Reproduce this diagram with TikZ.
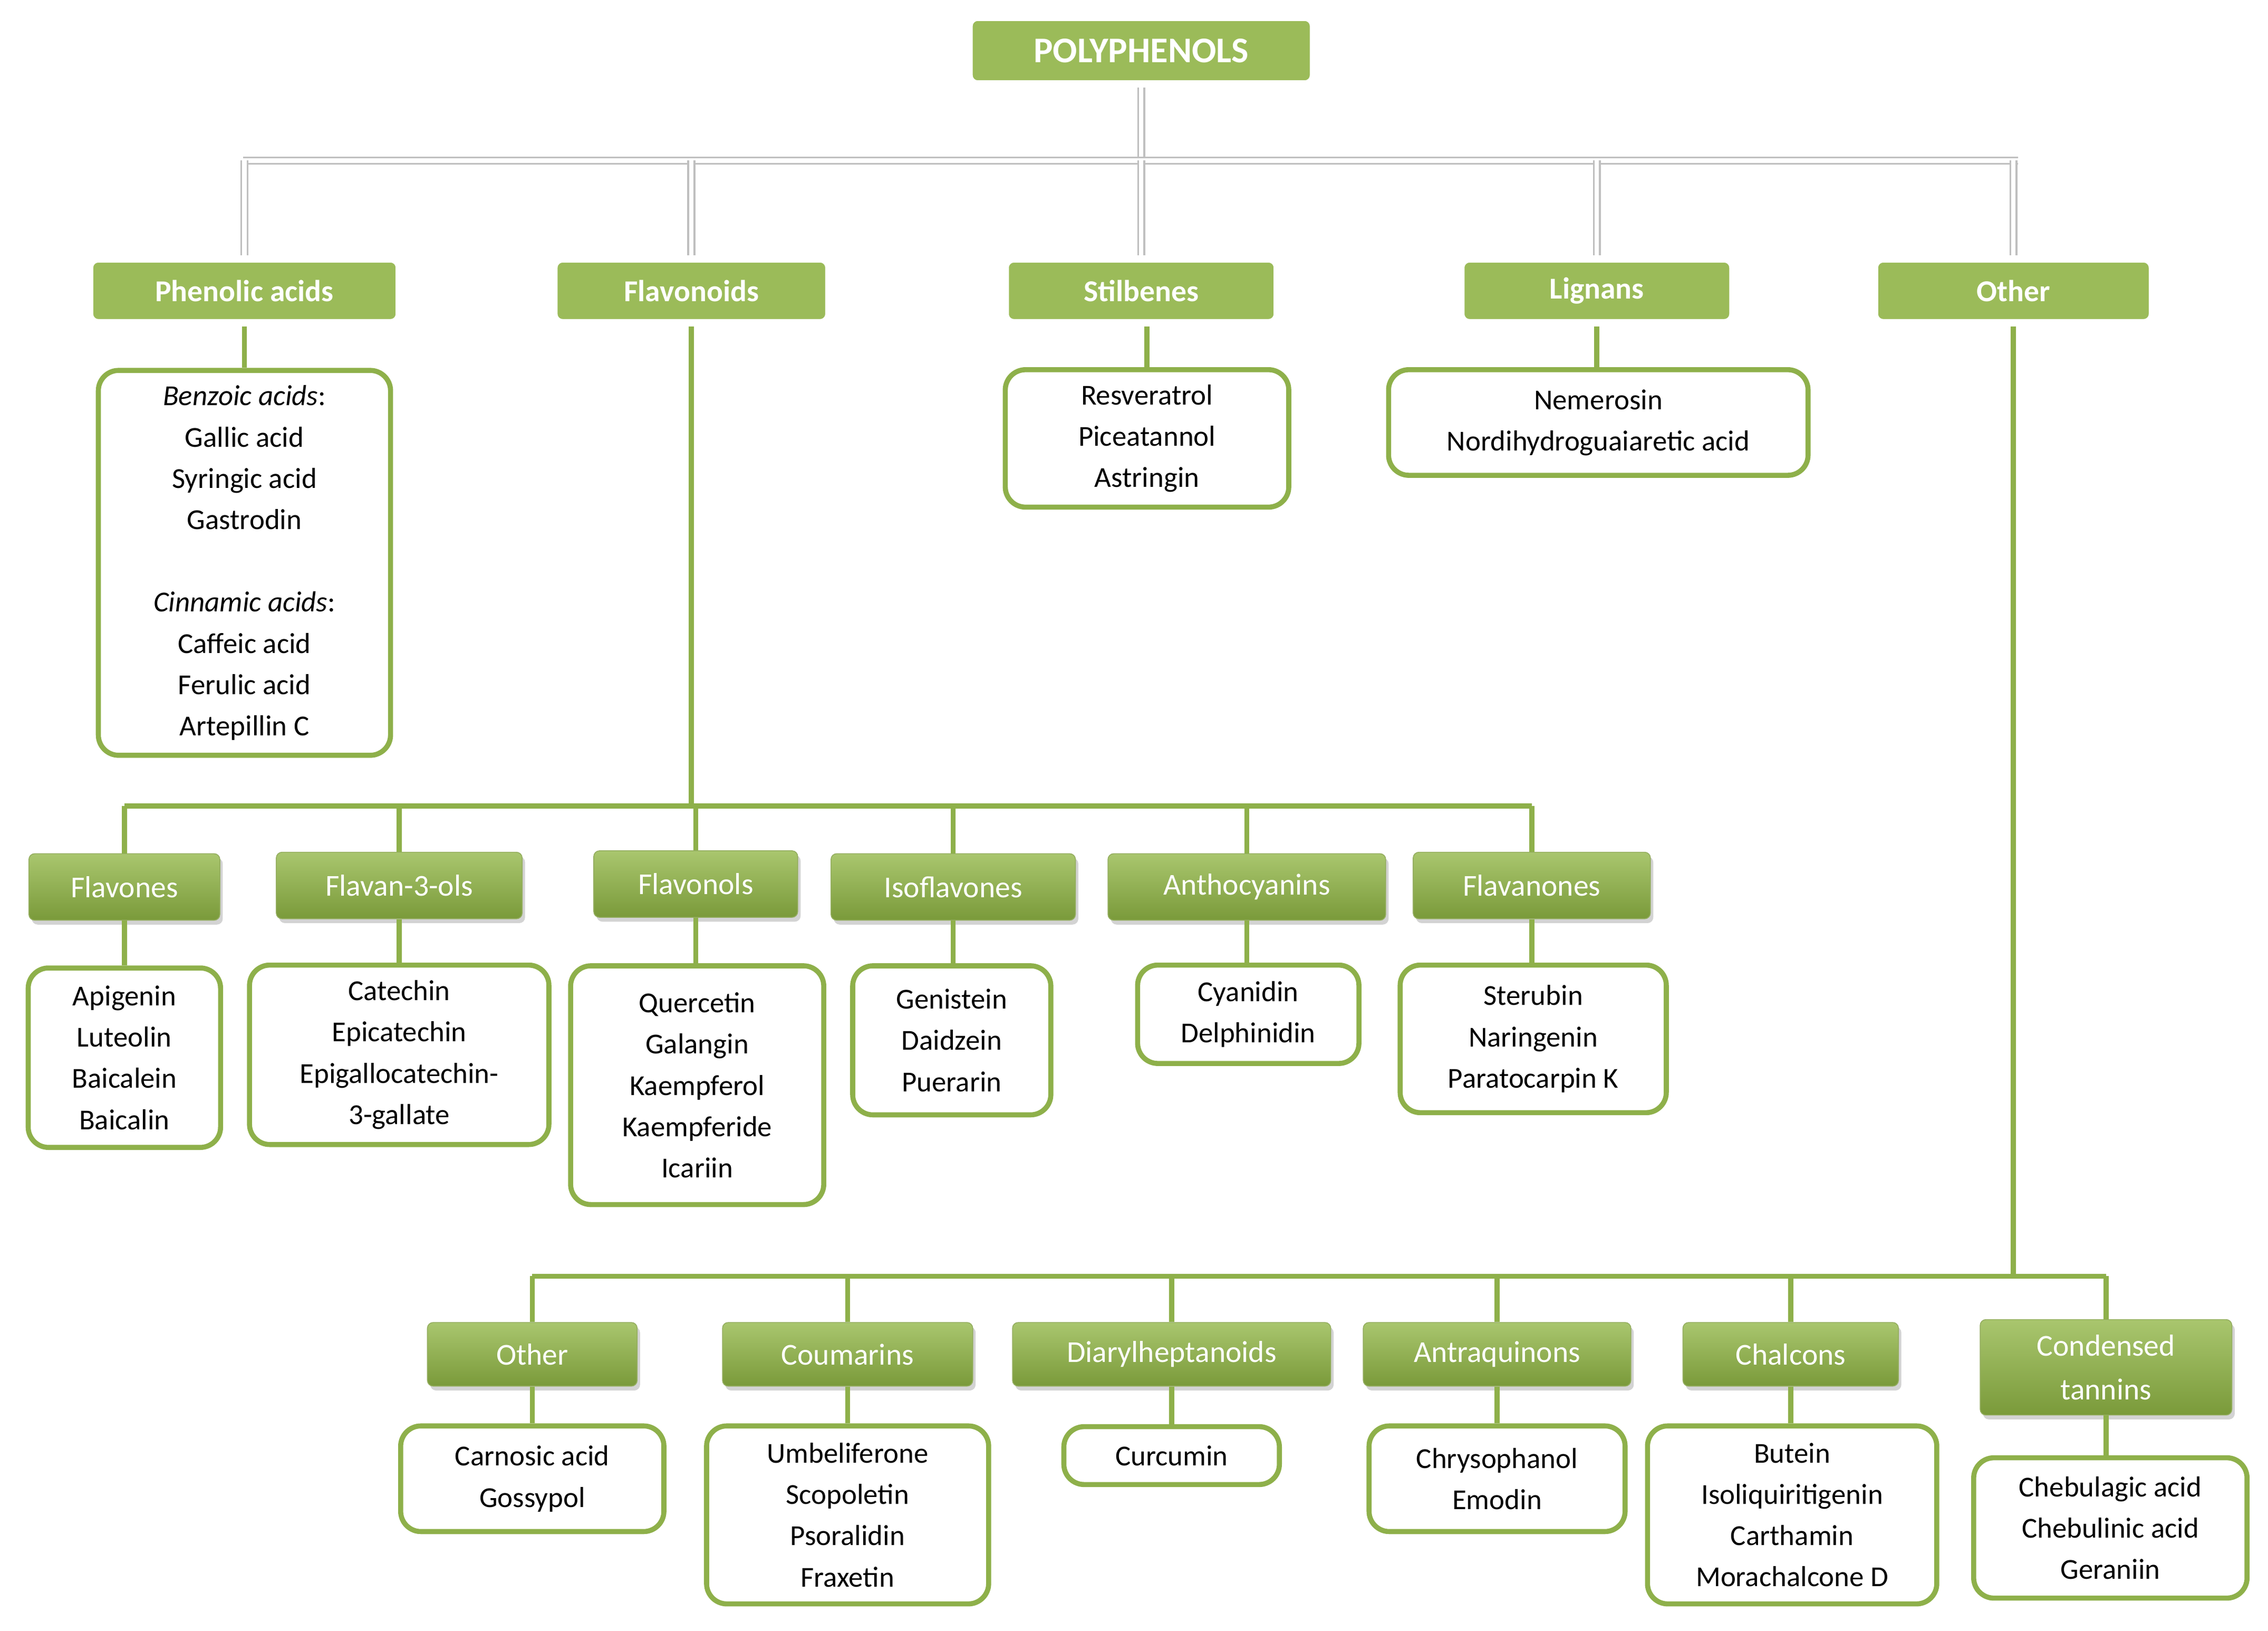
\documentclass[tikz,border=0pt]{standalone}
\usepackage{fontspec}
\setmainfont{Carlito}
\usetikzlibrary{shadows}
\definecolor{gA}{HTML}{9BBB59}
\definecolor{gB}{HTML}{A9C66E}
\definecolor{gC}{HTML}{7A9A3A}
\definecolor{gL}{HTML}{8EB04A}
\begin{document}
\begin{tikzpicture}[x=1pt,y=-1pt,
  top/.style={fill=gA,draw=white,line width=5pt,rounded corners=6pt,text=white,font=\fontsize{25}{28}\selectfont\bfseries,inner sep=0pt,drop shadow={shadow xshift=1pt,shadow yshift=-2pt,opacity=.35}},
  l1/.style={fill=gA,draw=white,line width=5pt,rounded corners=6pt,text=white,font=\fontsize{21}{25}\selectfont\bfseries,inner sep=0pt,minimum height=44pt,drop shadow={shadow xshift=1pt,shadow yshift=-2pt,opacity=.35}},
  l2/.style={top color=gB,bottom color=gC,draw=gC!80,line width=.6pt,rounded corners=4pt,text=white,font=\fontsize{21}{26}\selectfont,inner sep=0pt,minimum height=46pt,align=center,drop shadow={shadow xshift=2pt,shadow yshift=-3pt,opacity=.35}},
  box/.style={fill=white,draw=gL,line width=3.5pt,rounded corners=14pt,font=\fontsize{20}{28.5}\selectfont,inner sep=0pt,align=center},
  gl/.style={draw=gL,line width=3.5pt},
  grl/.style={draw=black!25,line width=1.3pt,double=white,double distance=3pt}]
\useasboundingbox (0,0) rectangle (1568,1127);
% top
\node[top,minimum width=238pt,minimum height=46pt] (poly) at (789,35) {POLYPHENOLS};
\coordinate (bus) at (789,111);
\coordinate (busL) at (168,111);
\coordinate (busR) at (1395,111);
\node[l1,minimum width=214pt] (pa) at (169,201) {Phenolic acids};
\node[l1,minimum width=190pt] (fl) at (478,201) {Flavonoids};
\node[l1,minimum width=188pt] (st) at (789,201) {Stilbenes};
\node[l1,minimum width=188pt] (li) at (1104,201) {Lignans};
\node[l1,minimum width=192pt] (ot) at (1392,201) {Other};
\draw[grl] (poly.south) -- (bus);
\draw[grl] (busL) -- (busR);
\foreach \n in {pa,fl,st,li,ot} \draw[grl] (\n.north |- bus) -- (\n.north);
% level 1 contents
\node[box,minimum width=202pt,minimum height=266pt] (pac) at (169,389) {\textit{Benzoic acids}:\\Gallic acid\\Syringic acid\\Gastrodin\\[28.5pt]\textit{Cinnamic acids}:\\Caffeic acid\\Ferulic acid\\Artepillin C};
\node[box,minimum width=196pt,minimum height=95pt] (stc) at (793,303) {Resveratrol\\Piceatannol\\Astringin};
\node[box,minimum width=290pt,minimum height=73pt] (lic) at (1105,292) {Nemerosin\\Nordihydroguaiaretic acid};
\draw[gl] (pa.south) -- (pa.south |- pac.north);
\draw[gl] (st.south -| stc.north) -- (stc.north);
\draw[gl] (li.south) -- (li.south |- lic.north);
% flavonoids
\coordinate (fbus) at (478,557);
\node[l2,minimum width=132pt] (f1) at (86,613) {Flavones};
\node[l2,minimum width=170pt] (f2) at (276,612) {Flavan-3-ols};
\node[l2,minimum width=141pt] (f3) at (481,611) {Flavonols};
\node[l2,minimum width=169pt] (f4) at (659,613) {Isoflavones};
\node[l2,minimum width=192pt] (f5) at (862,613) {Anthocyanins};
\node[l2,minimum width=164pt] (f6) at (1059,612) {Flavanones};
\draw[gl] (fl.south) -- (fbus);
\draw[gl] (f1.north |- fbus) -- (f6.north |- fbus);
\foreach \n in {f1,f2,f3,f4,f5,f6} \draw[gl] (\n.north |- fbus) -- (\n.north);
\node[box,minimum width=133pt,minimum height=124pt] (c1) at (86,731) {Apigenin\\Luteolin\\Baicalein\\Baicalin};
\node[box,minimum width=207pt,minimum height=124pt] (c2) at (276,729) {Catechin\\Epicatechin\\Epigallocatechin-\\3-gallate};
\node[box,minimum width=175pt,minimum height=165pt] (c3) at (482,750) {Quercetin\\Galangin\\Kaempferol\\Kaempferide\\Icariin};
\node[box,minimum width=137pt,minimum height=103pt] (c4) at (658,719) {Genistein\\Daidzein\\Puerarin};
\node[box,minimum width=153pt,minimum height=68pt] (c5) at (863,701) {Cyanidin\\Delphinidin};
\node[box,minimum width=184pt,minimum height=102pt] (c6) at (1060,718) {Sterubin\\Naringenin\\Paratocarpin K};
\foreach \a/\b in {f1/c1,f2/c2,f3/c3,f4/c4,f5/c5,f6/c6} \draw[gl] (\a.south) -- (\a.south |- \b.north);
% other
\coordinate (obus) at (1392,882);
\node[l2,minimum width=145pt,minimum height=44pt] (o1) at (368,936) {Other};
\node[l2,minimum width=173pt,minimum height=44pt] (o2) at (586,936) {Coumarins};
\node[l2,minimum width=220pt,minimum height=44pt] (o3) at (810,936) {Diarylheptanoids};
\node[l2,minimum width=185pt,minimum height=44pt] (o4) at (1035,936) {Antraquinons};
\node[l2,minimum width=149pt,minimum height=44pt] (o5) at (1238,936) {Chalcons};
\node[l2,minimum width=174pt,minimum height=66pt,font=\fontsize{21}{30}\selectfont] (o6) at (1456,945) {Condensed\\tannins};
\draw[gl] (ot.south) -- (obus);
\draw[gl] (o1.north |- obus) -- (o6.north |- obus);
\foreach \n in {o1,o2,o3,o4,o5,o6} \draw[gl] (\n.north |- obus) -- (\n.north);
\node[box,minimum width=182pt,minimum height=73pt] (d1) at (368,1022) {Carnosic acid\\Gossypol};
\node[box,minimum width=195pt,minimum height=123pt] (d2) at (586,1047) {Umbeliferone\\Scopoletin\\Psoralidin\\Fraxetin};
\node[box,minimum width=149pt,minimum height=40pt] (d3) at (810,1006) {Curcumin};
\node[box,minimum width=177pt,minimum height=73pt] (d4) at (1035,1022) {Chrysophanol\\Emodin};
\node[box,minimum width=200pt,minimum height=123pt] (d5) at (1239,1047) {Butein\\Isoliquiritigenin\\Carthamin\\Morachalcone D};
\node[box,minimum width=189pt,minimum height=97pt] (d6) at (1459,1056) {Chebulagic acid\\Chebulinic acid\\Geraniin};
\foreach \a/\b in {o1/d1,o2/d2,o3/d3,o4/d4,o5/d5,o6/d6} \draw[gl] (\a.south) -- (\a.south |- \b.north);
\end{tikzpicture}
\end{document}
